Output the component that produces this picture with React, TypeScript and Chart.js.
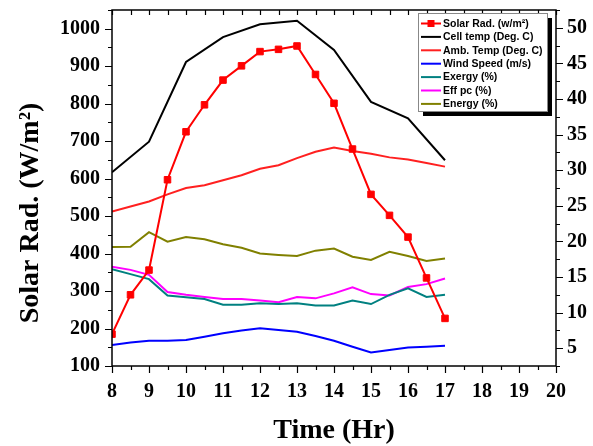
import React, { useEffect, useRef } from "react";
import { Chart, registerables } from "chart.js";
Chart.register(...registerables);

const HOURS = [8, 8.5, 9, 9.5, 10, 10.5, 11, 11.5, 12, 12.5, 13, 13.5, 14, 14.5, 15, 15.5, 16, 16.5, 17];
const CELL_HOURS = [8, 9, 10, 11, 12, 13, 14, 15, 16, 17];
const SOLAR_RAD = [185, 290, 356, 597, 725, 797, 863, 901, 939, 945, 954, 878, 801, 679, 558, 502, 444, 335, 227];
const CELL_TEMP = [29.7, 34.0, 45.2, 48.7, 50.5, 51.0, 46.9, 39.6, 37.3, 31.4];
const AMB_TEMP = [24.2, 24.9, 25.6, 26.6, 27.5, 27.9, 28.6, 29.3, 30.2, 30.7, 31.7, 32.6, 33.2, 32.7, 32.3, 31.8, 31.5, 31.0, 30.5];
const WIND_SPEED = [5.45, 5.8, 6.05, 6.05, 6.15, 6.6, 7.1, 7.5, 7.8, 7.55, 7.3, 6.7, 6.05, 5.2, 4.4, 4.75, 5.1, 5.2, 5.35];
const EXERGY = [16.1, 15.4, 14.7, 12.4, 12.15, 11.9, 11.1, 11.1, 11.3, 11.2, 11.3, 11.0, 11.0, 11.7, 11.2, 12.5, 13.4, 12.2, 12.5];
const EFF_PC = [16.45, 16.0, 15.3, 12.9, 12.5, 12.2, 11.9, 11.9, 11.7, 11.45, 12.2, 12.0, 12.7, 13.55, 12.6, 12.4, 13.6, 14.0, 14.8];
const ENERGY = [19.2, 19.25, 21.3, 19.95, 20.6, 20.3, 19.6, 19.1, 18.3, 18.1, 17.95, 18.7, 19.0, 17.85, 17.4, 18.55, 17.95, 17.25, 17.6];

const X_TICKS = [8, 9, 10, 11, 12, 13, 14, 15, 16, 17, 18, 19, 20];
const LEFT_TICKS = [100, 200, 300, 400, 500, 600, 700, 800, 900, 1000];
const RIGHT_TICKS = [5, 10, 15, 20, 25, 30, 35, 40, 45, 50];

const LEGEND_LABELS = [
  "Solar Rad. (w/m\u00B2)",
  "Cell temp (Deg. C)",
  "Amb. Temp (Deg. C)",
  "Wind Speed (m/s)",
  "Exergy (%)",
  "Eff pc (%)",
  "Energy (%)",
];
const COLORS = ["#ff0000", "#000000", "#ff2020", "#0000ff", "#008080", "#ff00ff", "#808000"];

const X_TITLE = "Time (Hr)";
const Y_TITLE = "Solar Rad. (W/m\u00B2)";

const SERIF = '"Liberation Serif", "Times New Roman", serif';
const SANS = '"Liberation Sans", Arial, sans-serif';

const pts = (xs: number[], ys: number[]) => xs.map((x, i) => ({ x, y: ys[i] }));

const framePlugin = {
  id: "frame",
  afterDraw(chart: any) {
    const { ctx, chartArea: a, scales } = chart;
    const xs = scales.x;
    const yl = scales.y;
    const yr = scales.y1;
    ctx.save();
    ctx.strokeStyle = "#000";
    ctx.lineWidth = 1.5;
    ctx.strokeRect(a.left, a.top, a.right - a.left, a.bottom - a.top);
    ctx.lineWidth = 1.2;
    ctx.beginPath();
    for (let v = xs.min; v <= xs.max + 1e-9; v += 0.5) {
      const px = Math.round(xs.getPixelForValue(v)) + 0.5;
      const major = Math.abs(v - Math.round(v)) < 1e-6;
      ctx.moveTo(px, a.bottom);
      ctx.lineTo(px, a.bottom + (major ? 7 : 4));
      ctx.moveTo(px, a.top);
      ctx.lineTo(px, a.top + 5);
    }
    for (let v = 100; v <= yl.max + 1e-9; v += 50) {
      const py = Math.round(yl.getPixelForValue(v)) + 0.5;
      const major = v % 100 === 0;
      ctx.moveTo(a.left, py);
      ctx.lineTo(a.left - (major ? 7 : 4), py);
    }
    for (let v = yr.min; v <= yr.max + 1e-9; v += 2.5) {
      const py = Math.round(yr.getPixelForValue(v)) + 0.5;
      const major = Math.abs(v / 5 - Math.round(v / 5)) < 1e-6;
      ctx.moveTo(a.right, py);
      ctx.lineTo(a.right + (major ? 7 : 4), py);
    }
    ctx.stroke();

    // axis titles
    ctx.fillStyle = "#000";
    ctx.font = `bold 28px ${SERIF}`;
    ctx.textAlign = "center";
    ctx.textBaseline = "middle";
    ctx.fillText(X_TITLE, (a.left + a.right) / 2, 431);
    ctx.save();
    ctx.translate(31, 213);
    ctx.rotate(-Math.PI / 2);
    ctx.fillText(Y_TITLE, 0, 0);
    ctx.restore();

    // legend
    const bx = 418, by = 13, bw = 129, bh = 98;
    ctx.fillStyle = "#000";
    ctx.fillRect(bx + 5, by + 5, bw, bh);
    ctx.fillStyle = "#fff";
    ctx.fillRect(bx, by, bw, bh);
    ctx.strokeStyle = "#888";
    ctx.lineWidth = 1;
    ctx.strokeRect(bx + 0.5, by + 0.5, bw, bh);
    ctx.font = `bold 10.5px ${SANS}`;
    ctx.textAlign = "left";
    ctx.textBaseline = "middle";
    LEGEND_LABELS.forEach((lab, i) => {
      const ry = 23.5 + i * 13.4;
      ctx.strokeStyle = COLORS[i];
      ctx.lineWidth = 2;
      ctx.beginPath();
      ctx.moveTo(421, ry);
      ctx.lineTo(441, ry);
      ctx.stroke();
      if (i === 0) {
        ctx.fillStyle = COLORS[0];
        ctx.fillRect(427.5, ry - 3.5, 7, 7);
      }
      ctx.fillStyle = "#000";
      ctx.fillText(lab, 443, ry + 0.5);
    });
    ctx.restore();
  },
};

export default function App() {
  const ref = useRef<HTMLCanvasElement | null>(null);
  useEffect(() => {
    if (!ref.current) return;
    const tickFont = { family: SERIF, size: 20, weight: "bold" as const };
    const line = (label: string, xs: number[], ys: number[], color: string, axis: string, extra: any = {}) => ({
      label,
      data: pts(xs, ys),
      borderColor: color,
      backgroundColor: color,
      borderWidth: 2,
      pointRadius: 0,
      tension: 0,
      yAxisID: axis,
      ...extra,
    });
    const vFit = (w: number) => (s: any) => {
      s.width = w;
      s.paddingTop = 0;
      s.paddingBottom = 0;
    };
    const chart = new Chart(ref.current, {
      type: "line",
      data: {
        datasets: [
          line(LEGEND_LABELS[0], HOURS, SOLAR_RAD, COLORS[0], "y", {
            pointRadius: 4.6,
            pointStyle: "rect",
            pointBorderWidth: 1,
          }),
          line(LEGEND_LABELS[1], CELL_HOURS, CELL_TEMP, COLORS[1], "y1"),
          line(LEGEND_LABELS[2], HOURS, AMB_TEMP, COLORS[2], "y1"),
          line(LEGEND_LABELS[3], HOURS, WIND_SPEED, COLORS[3], "y1"),
          line(LEGEND_LABELS[4], HOURS, EXERGY, COLORS[4], "y1"),
          line(LEGEND_LABELS[5], HOURS, EFF_PC, COLORS[5], "y1"),
          line(LEGEND_LABELS[6], HOURS, ENERGY, COLORS[6], "y1"),
        ],
      },
      options: {
        animation: false,
        responsive: false,
        devicePixelRatio: 1,
        layout: { padding: { top: 10, left: 0, right: 0, bottom: 0 } },
        plugins: { legend: { display: false }, tooltip: { enabled: false } },
        scales: {
          x: {
            type: "linear",
            position: "bottom",
            min: 8,
            max: 20,
            afterBuildTicks: (s: any) => {
              s.ticks = X_TICKS.map((v) => ({ value: v }));
            },
            afterFit: (s: any) => {
              s.height = 80;
              s.paddingLeft = 0;
              s.paddingRight = 0;
            },
            grid: { display: false, drawTicks: false },
            border: { display: false },
            ticks: { autoSkip: false, maxRotation: 0, padding: 14, color: "#000", font: tickFont, callback: (v: any) => String(v) },
          },
          y: {
            type: "linear",
            position: "left",
            min: 100,
            max: 1050,
            afterBuildTicks: (s: any) => {
              s.ticks = LEFT_TICKS.map((v) => ({ value: v }));
            },
            afterFit: vFit(112),
            grid: { display: false, drawTicks: false },
            border: { display: false },
            ticks: { autoSkip: false, padding: 12, color: "#000", font: tickFont, callback: (v: any) => String(v) },
          },
          y1: {
            type: "linear",
            position: "right",
            min: 2.5,
            max: 52.5,
            afterBuildTicks: (s: any) => {
              s.ticks = RIGHT_TICKS.map((v) => ({ value: v }));
            },
            afterFit: vFit(37),
            grid: { display: false, drawTicks: false },
            border: { display: false },
            ticks: { autoSkip: false, padding: 11, color: "#000", font: tickFont, callback: (v: any) => String(v) },
          },
        },
      },
      plugins: [framePlugin],
    } as any);
    return () => chart.destroy();
  }, []);
  return (
    <div style={{ position: "absolute", left: 0, top: 0, width: 593, height: 446, background: "#fff" }}>
      <canvas ref={ref} width={593} height={446} style={{ display: "block" }} />
    </div>
  );
}
